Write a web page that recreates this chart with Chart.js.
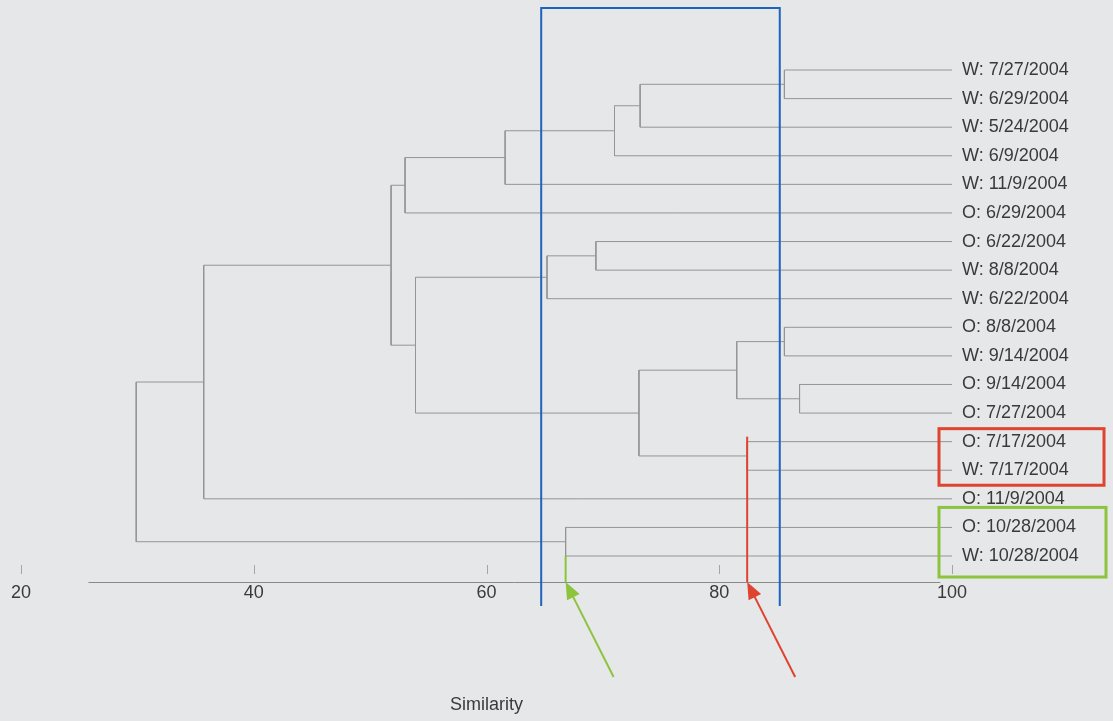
<!DOCTYPE html>
<html>
<head>
<meta charset="utf-8">
<script src="https://cdn.jsdelivr.net/npm/chart.js@4/dist/chart.umd.min.js"></script>
<style>
  html, body { margin: 0; padding: 0; background: #e6e7e8; }
  canvas { display: block; }
</style>
</head>
<body>
<canvas id="c" width="1113" height="721"></canvas>
<script>
// Samples, listed top to bottom in dendrogram order
const leafLabels = [
  'W: 7/27/2004', 'W: 6/29/2004', 'W: 5/24/2004', 'W: 6/9/2004', 'W: 11/9/2004',
  'O: 6/29/2004', 'O: 6/22/2004', 'W: 8/8/2004', 'W: 6/22/2004', 'O: 8/8/2004',
  'W: 9/14/2004', 'O: 9/14/2004', 'O: 7/27/2004', 'O: 7/17/2004', 'W: 7/17/2004',
  'O: 11/9/2004', 'O: 10/28/2004', 'W: 10/28/2004'
];

// Agglomeration steps: ids below 18 are samples, id 18 + k is the cluster built at step k
const mergeLeft  = [0, 18, 19, 20, 21, 6, 23, 9, 11, 25, 13, 27, 24, 22, 31, 16, 32];
const mergeRight = [1, 2, 3, 4, 5, 7, 8, 10, 12, 26, 14, 28, 29, 30, 15, 17, 33];
const mergeSimilarity = [85.6, 73.2, 71.0, 61.6, 53.0, 69.4, 65.2, 85.6, 86.9, 81.5,
                         82.4, 73.1, 53.9, 51.8, 35.7, 66.8, 29.9];

// Similarity axis
const xTicks = [20, 40, 60, 80, 100];
const axisLineRange = [25.8, 99];

// Highlights: similarity band, boxed sample pairs and the clusters they point at
const bandRange = [64.7, 85.2];
const redPair = [13, 14];
const greenPair = [16, 17];
const redCluster = 28;
const greenCluster = 33;

const nLeaves = leafLabels.length;
const nodeX = [];
const nodeY = [];
leafLabels.forEach((_, i) => { nodeX[i] = 100; nodeY[i] = i; });
mergeLeft.forEach((a, k) => {
  const b = mergeRight[k];
  nodeX[nLeaves + k] = mergeSimilarity[k];
  nodeY[nLeaves + k] = (nodeY[a] + nodeY[b]) / 2;
});

// One bracket (left child -> join -> right child) per merge
const datasets = mergeLeft.map((a, k) => {
  const b = mergeRight[k];
  const h = mergeSimilarity[k];
  return {
    data: [
      { x: nodeX[a], y: nodeY[a] },
      { x: h, y: nodeY[a] },
      { x: h, y: nodeY[b] },
      { x: nodeX[b], y: nodeY[b] }
    ],
    showLine: true,
    borderColor: '#959595',
    borderWidth: 1,
    pointRadius: 0,
    pointHoverRadius: 0,
    tension: 0,
    fill: false
  };
});

const FONT = 'Liberation Sans, Arial, Helvetica, sans-serif';
const TEXT = '#3a3a3a';
const BLUE = '#1e63bd';
const RED = '#df4430';
const GREEN = '#8cc43e';

function arrow(ctx, tipX, tipY, color) {
  const dx = 48, dy = 95;
  const len = Math.hypot(dx, dy);
  const ux = dx / len, uy = dy / len;
  const head = 17, half = 7;
  ctx.save();
  ctx.strokeStyle = color;
  ctx.fillStyle = color;
  ctx.lineWidth = 2;
  ctx.beginPath();
  ctx.moveTo(tipX + ux * head * 0.8, tipY + uy * head * 0.8);
  ctx.lineTo(tipX + dx, tipY + dy);
  ctx.stroke();
  const bx = tipX + ux * head, by = tipY + uy * head;
  ctx.beginPath();
  ctx.moveTo(tipX, tipY);
  ctx.lineTo(bx - uy * half, by + ux * half);
  ctx.lineTo(bx + uy * half, by - ux * half);
  ctx.closePath();
  ctx.fill();
  ctx.restore();
}

const overlay = {
  id: 'overlay',
  afterDatasetsDraw(chart) {
    const { ctx, chartArea, scales: { x, y } } = chart;
    const bottom = chartArea.bottom;

    // axis line and tick marks
    ctx.save();
    ctx.strokeStyle = '#8a8a8a';
    ctx.lineWidth = 1;
    ctx.beginPath();
    ctx.moveTo(x.getPixelForValue(axisLineRange[0]), bottom + 0.5);
    ctx.lineTo(x.getPixelForValue(axisLineRange[1]), bottom + 0.5);
    ctx.stroke();
    ctx.strokeStyle = '#a5a5a5';
    xTicks.forEach(v => {
      const px = Math.round(x.getPixelForValue(v)) + 0.5;
      ctx.beginPath();
      ctx.moveTo(px, bottom - 17);
      ctx.lineTo(px, bottom - 8);
      ctx.stroke();
    });
    ctx.restore();

    // blue band bracket
    const bl = x.getPixelForValue(bandRange[0]);
    const br = x.getPixelForValue(bandRange[1]);
    ctx.save();
    ctx.strokeStyle = BLUE;
    ctx.lineWidth = 2;
    ctx.beginPath();
    ctx.moveTo(bl, bottom + 24);
    ctx.lineTo(bl, chartArea.top);
    ctx.lineTo(br, chartArea.top);
    ctx.lineTo(br, bottom + 24);
    ctx.stroke();
    ctx.restore();

    // boxes around the paired sample labels
    const boxLeft = x.getPixelForValue(100) - 13;
    ctx.save();
    ctx.lineWidth = 3;
    ctx.strokeStyle = RED;
    ctx.strokeRect(boxLeft, y.getPixelForValue(redPair[0]) - 13,
                   chart.width - 9 - boxLeft, y.getPixelForValue(redPair[1]) - y.getPixelForValue(redPair[0]) + 28);
    ctx.strokeStyle = GREEN;
    ctx.strokeRect(boxLeft, y.getPixelForValue(greenPair[0]) - 20,
                   chart.width - 7 - boxLeft, y.getPixelForValue(greenPair[1]) - y.getPixelForValue(greenPair[0]) + 41);
    ctx.restore();

    // markers from the clusters down to the axis
    const rx = x.getPixelForValue(mergeSimilarity[redCluster - nLeaves]);
    const gx = x.getPixelForValue(mergeSimilarity[greenCluster - nLeaves]);
    ctx.save();
    ctx.lineWidth = 2;
    ctx.strokeStyle = RED;
    ctx.beginPath();
    ctx.moveTo(rx, y.getPixelForValue(redPair[0]) - 5);
    ctx.lineTo(rx, bottom);
    ctx.stroke();
    ctx.strokeStyle = GREEN;
    ctx.beginPath();
    ctx.moveTo(gx, y.getPixelForValue(greenPair[1]));
    ctx.lineTo(gx, bottom);
    ctx.stroke();
    ctx.restore();

    arrow(ctx, gx, bottom, GREEN);
    arrow(ctx, rx, bottom, RED);
  }
};

new Chart(document.getElementById('c'), {
  type: 'scatter',
  data: { datasets },
  options: {
    responsive: false,
    animation: false,
    events: [],
    layout: { padding: { left: 21, right: 0, top: 8, bottom: 0 } },
    plugins: { legend: { display: false }, tooltip: { enabled: false } },
    scales: {
      x: {
        type: 'linear',
        min: 20,
        max: 100,
        afterBuildTicks: s => { s.ticks = xTicks.map(v => ({ value: v })); },
        afterFit: s => { s.height = 139; s.paddingLeft = 0; s.paddingRight = 0; },
        grid: { display: false, drawTicks: false },
        border: { display: false },
        ticks: { font: { family: FONT, size: 18 }, color: TEXT, padding: 0, maxRotation: 0, autoSkip: false },
        title: {
          display: true,
          text: 'Similarity',
          font: { family: FONT, size: 18 },
          color: TEXT,
          padding: { top: 0, bottom: 5 }
        }
      },
      y: {
        type: 'linear',
        position: 'right',
        reverse: true,
        min: -2.169,
        max: 17.909,
        afterBuildTicks: s => { s.ticks = leafLabels.map((_, i) => ({ value: i })); },
        afterFit: s => { s.width = 161; s.paddingTop = 0; s.paddingBottom = 0; },
        grid: { display: false, drawTicks: false },
        border: { display: false },
        ticks: {
          font: { family: FONT, size: 18 },
          color: TEXT,
          padding: 10,
          autoSkip: false,
          callback: v => leafLabels[v]
        }
      }
    }
  },
  plugins: [overlay]
});
</script>
</body>
</html>
